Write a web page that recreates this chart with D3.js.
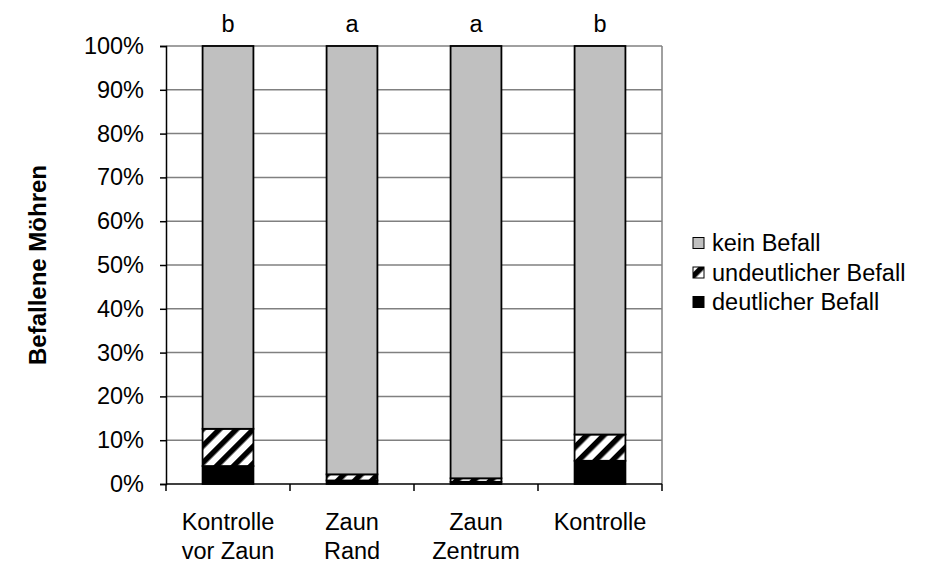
<!DOCTYPE html>
<html>
<head>
<meta charset="utf-8">
<script src="https://cdn.jsdelivr.net/npm/d3@7"></script>
<style>
  body { margin: 0; background: #fff; }
  text { font-family: "Liberation Sans", Arial, sans-serif; fill: #000; }
</style>
</head>
<body>
<div id="chart"></div>
<script>
// categories (two-line labels) and letters above the bars
var categories = ["Kontrolle vor Zaun", "Zaun Rand", "Zaun Zentrum", "Kontrolle"];
var catLines = [["Kontrolle", "vor Zaun"], ["Zaun", "Rand"], ["Zaun", "Zentrum"], ["Kontrolle", ""]];
var letters = ["b", "a", "a", "b"];

// percentages per class
var deutlich = [4.1, 0.8, 0.5, 5.3];
var undeutlich = [8.5, 1.4, 0.8, 6.0];
var kein = [87.4, 97.8, 98.7, 88.7];

var yTicks = [0, 10, 20, 30, 40, 50, 60, 70, 80, 90, 100];
var seriesNames = ["deutlicher Befall", "undeutlicher Befall", "kein Befall"];

var width = 928, height = 565;
var margin = {left: 166, right: 266, top: 46, bottom: 81};
var fontSize = "23.5px";

var svg = d3.select("#chart").append("svg")
    .attr("width", width)
    .attr("height", height);

// hatch pattern
var defs = svg.append("defs");
defs.append("pattern")
    .attr("id", "hatch")
    .attr("patternUnits", "userSpaceOnUse")
    .attr("width", 12)
    .attr("height", 12)
    .attr("patternTransform", "rotate(45)")
    .call(p => {
        p.append("rect").attr("width", 12).attr("height", 12).attr("fill", "#fff");
        p.append("rect").attr("width", 5.5).attr("height", 12).attr("fill", "#000");
    });

var fills = ["#000000", "url(#hatch)", "#c0c0c0"];

var x = d3.scaleBand()
    .domain(categories)
    .range([margin.left, width - margin.right])
    .padding(0);

var y = d3.scaleLinear()
    .domain([0, 100])
    .range([height - margin.bottom, margin.top]);

// gridlines
svg.append("g")
    .selectAll("line")
    .data(yTicks.filter(d => d > 0))
    .join("line")
    .attr("x1", margin.left)
    .attr("x2", width - margin.right)
    .attr("y1", d => y(d))
    .attr("y2", d => y(d))
    .attr("stroke", "#808080")
    .attr("stroke-width", 1.5);

// right border
svg.append("line")
    .attr("x1", width - margin.right)
    .attr("x2", width - margin.right)
    .attr("y1", y(100))
    .attr("y2", y(0))
    .attr("stroke", "#808080")
    .attr("stroke-width", 1.5);

// stacked bars
var table = categories.map((c, i) => ({cat: c, d: deutlich[i], u: undeutlich[i], k: kein[i]}));
var stack = d3.stack().keys(["d", "u", "k"])(table);

var barW = x.bandwidth() * 0.41;

svg.append("g")
    .selectAll("g")
    .data(stack)
    .join("g")
    .attr("fill", (d, i) => fills[i])
    .selectAll("rect")
    .data(d => d)
    .join("rect")
    .attr("x", d => x(d.data.cat) + (x.bandwidth() - barW) / 2)
    .attr("width", barW)
    .attr("y", d => y(d[1]))
    .attr("height", d => y(d[0]) - y(d[1]))
    .attr("stroke", "#000")
    .attr("stroke-width", 1.8);

// y axis
var yAxis = svg.append("g")
    .attr("transform", "translate(" + margin.left + ",0)")
    .call(d3.axisLeft(y).tickValues(yTicks).tickFormat(d => d + "%").tickSizeOuter(0).tickSize(6).tickPadding(16));
yAxis.selectAll("text").style("font-size", fontSize).attr("font-family", null);
yAxis.selectAll("line, path").attr("stroke", "#000").attr("stroke-width", 1.5);

// x axis: ticks at category boundaries
var xAxisG = svg.append("g");
xAxisG.append("line")
    .attr("x1", margin.left)
    .attr("x2", width - margin.right)
    .attr("y1", y(0))
    .attr("y2", y(0))
    .attr("stroke", "#000")
    .attr("stroke-width", 1.5);
var bounds = categories.map(c => x(c)).concat([x(categories[categories.length - 1]) + x.bandwidth()]);
xAxisG.selectAll(".tick")
    .data(bounds)
    .join("line")
    .attr("x1", d => d)
    .attr("x2", d => d)
    .attr("y1", y(0))
    .attr("y2", y(0) + 7)
    .attr("stroke", "#000")
    .attr("stroke-width", 1.5);

// category labels
var catText = svg.append("g")
    .selectAll("text")
    .data(catLines)
    .join("text")
    .attr("text-anchor", "middle")
    .style("font-size", fontSize)
    .attr("x", (d, i) => x(categories[i]) + x.bandwidth() / 2);
catText.selectAll("tspan")
    .data(d => d)
    .join("tspan")
    .attr("x", function () { return d3.select(this.parentNode).attr("x"); })
    .attr("y", (d, j) => 530 + j * 29)
    .text(d => d);

// letters above bars
svg.append("g")
    .selectAll("text")
    .data(letters)
    .join("text")
    .attr("text-anchor", "middle")
    .style("font-size", fontSize)
    .attr("x", (d, i) => x(categories[i]) + x.bandwidth() / 2)
    .attr("y", 32)
    .text(d => d);

// y axis title
svg.append("text")
    .attr("transform", "translate(46," + (y(50)) + ") rotate(-90)")
    .attr("text-anchor", "middle")
    .style("font-size", "24px")
    .style("font-weight", "bold")
    .text("Befallene Möhren");

// legend (top to bottom: kein, undeutlich, deutlich)
var legendOrder = [2, 1, 0];
var legend = svg.append("g")
    .selectAll("g")
    .data(legendOrder)
    .join("g")
    .attr("transform", (d, i) => "translate(693," + (243 + i * 29.5) + ")");
legend.append("rect")
    .attr("x", 0)
    .attr("y", -5.5)
    .attr("width", 11)
    .attr("height", 11)
    .attr("fill", d => d === 1 ? "url(#hatch)" : fills[d])
    .attr("stroke", "#000")
    .attr("stroke-width", 1);
legend.append("text")
    .attr("x", 19)
    .attr("dy", "0.35em")
    .style("font-size", fontSize)
    .text(d => seriesNames[d]);
</script>
</body>
</html>
